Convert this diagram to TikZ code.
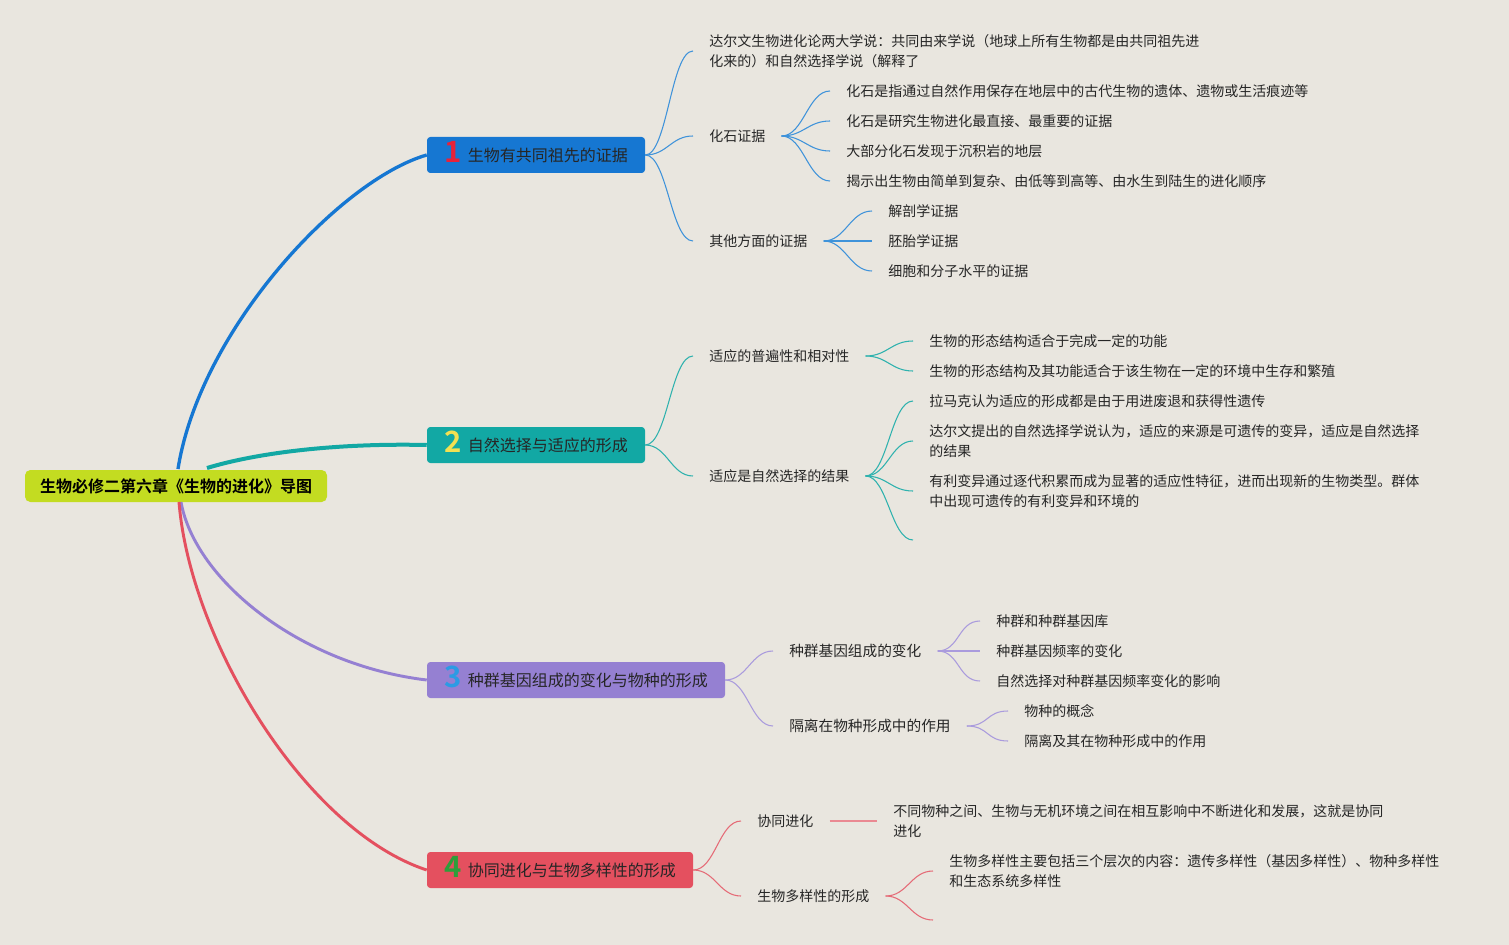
\documentclass[tikz,border=0pt]{standalone}
\usepackage{fontspec}
\setmainfont{Noto Sans CJK SC}[BoldFont={Noto Sans CJK SC Bold}]
\definecolor{bgcol}{HTML}{E9E6DF}
\definecolor{inkcol}{HTML}{262626}
\definecolor{rootcol}{HTML}{C3DC21}
\definecolor{onecol}{HTML}{1677D2}
\definecolor{twocol}{HTML}{12A8A4}
\definecolor{threecol}{HTML}{9580D2}
\definecolor{fourcol}{HTML}{E4505F}
\definecolor{onethin}{HTML}{3F93DA}
\definecolor{twothin}{HTML}{2FB2AE}
\definecolor{threethin}{HTML}{AA9BDD}
\definecolor{fourthin}{HTML}{E56B77}
\definecolor{numred}{HTML}{E8223A}
\definecolor{numyellow}{HTML}{F2E052}
\definecolor{numblue}{HTML}{2C9BE4}
\definecolor{numgreen}{HTML}{2E9E3A}
\newcommand\topicnum[2]{\smash{\raisebox{-1pt}{\fontsize{22}{22}\selectfont\bfseries\color{#1}#2}}\hspace{5pt}}

\begin{document}
\begin{tikzpicture}[x=0.75pt,y=-0.75pt,
    txt/.style={anchor=west, inner xsep=12pt, inner ysep=2pt, align=left,
        font=\fontsize{10.5}{15}\selectfont, text=inkcol},
    topic/.style={rounded corners=2.5pt, minimum height=27pt, inner sep=0pt,
        font=\fontsize{12}{14}\selectfont, text=inkcol},
    thin link/.style={line width=0.8pt}]
    % Background
    \fill[bgcol] (0,0) rectangle (1509,945);
    \useasboundingbox (0,0) rectangle (1509,945);
    % Root
    \node[fill=rootcol, rounded corners=4pt, minimum width=226.5pt, minimum height=24pt,
        inner sep=0pt, font=\bfseries\fontsize{12}{14}\selectfont, text=black]
        (root) at (176,486) {生物必修二第六章《生物的进化》导图};
    \coordinate (r1) at (178,469);
    \coordinate (r2) at (207,468);
    \coordinate (r3) at (181,502);
    \coordinate (r4) at (179,502);
    % Main topics
    \node[topic, fill=onecol, minimum width=163.5pt] (b1) at (536,155)
        {\topicnum{numred}{1}生物有共同祖先的证据};
    \node[topic, fill=twocol, minimum width=163.5pt] (b2) at (536,445)
        {\topicnum{numyellow}{2}自然选择与适应的形成};
    \node[topic, fill=threecol, minimum width=223.5pt] (b3) at (576,680)
        {\topicnum{numblue}{3}种群基因组成的变化与物种的形成};
    \node[topic, fill=fourcol, minimum width=199.5pt] (b4) at (560,870)
        {\topicnum{numgreen}{4}协同进化与生物多样性的形成};
    \draw[line width=2.5pt, onecol] (r1) .. controls (200,330) and (340,180) .. (b1.west);
    \draw[line width=3pt, twocol] (r2) .. controls (260,452) and (340,443) .. (b2.west);
    \draw[line width=2.2pt, threecol] (r3) .. controls (195,580) and (300,665) .. (b3.west);
    \draw[line width=2.2pt, fourcol] (r4) .. controls (190,640) and (305,830) .. (b4.west);

    % Branch 1
    \node[txt] (t11) at (693,51) {达尔文生物进化论两大学说：共同由来学说（地球上所有生物都是由共同祖先进\\化来的）和自然选择学说（解释了};
    \node[txt] (t12) at (693,136) {化石证据};
    \node[txt] (t13) at (693,241) {其他方面的证据};
    \node[txt] (t121) at (830,91) {化石是指通过自然作用保存在地层中的古代生物的遗体、遗物或生活痕迹等};
    \node[txt] (t122) at (830,121) {化石是研究生物进化最直接、最重要的证据};
    \node[txt] (t123) at (830,151) {大部分化石发现于沉积岩的地层};
    \node[txt] (t124) at (830,181) {揭示出生物由简单到复杂、由低等到高等、由水生到陆生的进化顺序};
    \node[txt] (t131) at (872,211) {解剖学证据};
    \node[txt] (t132) at (872,241) {胚胎学证据};
    \node[txt] (t133) at (872,271) {细胞和分子水平的证据};
    \foreach \to in {t11,t12,t13}
        \draw[thin link, onethin] (b1.east) .. controls +(22,0) and +(-22,0) .. (\to.west);
    \foreach \to in {t121,t122,t123,t124}
        \draw[thin link, onethin] (t12.east) .. controls +(22,0) and +(-22,0) .. (\to.west);
    \foreach \to in {t131,t132,t133}
        \draw[thin link, onethin] (t13.east) .. controls +(22,0) and +(-22,0) .. (\to.west);

    % Branch 2
    \node[txt] (t21) at (693,356) {适应的普遍性和相对性};
    \node[txt] (t22) at (693,476) {适应是自然选择的结果};
    \node[txt] (t211) at (913,341) {生物的形态结构适合于完成一定的功能};
    \node[txt] (t212) at (913,371) {生物的形态结构及其功能适合于该生物在一定的环境中生存和繁殖};
    \node[txt] (t221) at (913,401) {拉马克认为适应的形成都是由于用进废退和获得性遗传};
    \node[txt] (t222) at (913,441) {达尔文提出的自然选择学说认为，适应的来源是可遗传的变异，适应是自然选择\\的结果};
    \node[txt] (t223) at (913,491) {有利变异通过逐代积累而成为显著的适应性特征，进而出现新的生物类型。群体\\中出现可遗传的有利变异和环境的};
    \coordinate (e224) at (913,540);
    \foreach \to in {t21,t22}
        \draw[thin link, twothin] (b2.east) .. controls +(22,0) and +(-22,0) .. (\to.west);
    \foreach \to in {t211,t212}
        \draw[thin link, twothin] (t21.east) .. controls +(22,0) and +(-22,0) .. (\to.west);
    \foreach \to in {t221,t222,t223}
        \draw[thin link, twothin] (t22.east) .. controls +(22,0) and +(-22,0) .. (\to.west);
    \draw[thin link, twothin] (t22.east) .. controls +(22,0) and +(-22,0) .. (e224);

    % Branch 3
    \node[txt, font=\fontsize{11}{15}\selectfont] (t31) at (773,651) {种群基因组成的变化};
    \node[txt, font=\fontsize{11}{15}\selectfont] (t32) at (773,726) {隔离在物种形成中的作用};
    \node[txt] (t311) at (980,621) {种群和种群基因库};
    \node[txt] (t312) at (980,651) {种群基因频率的变化};
    \node[txt] (t313) at (980,681) {自然选择对种群基因频率变化的影响};
    \node[txt] (t321) at (1008,711) {物种的概念};
    \node[txt] (t322) at (1008,741) {隔离及其在物种形成中的作用};
    \foreach \to in {t31,t32}
        \draw[thin link, threethin] (b3.east) .. controls +(22,0) and +(-22,0) .. (\to.west);
    \foreach \to in {t311,t312,t313}
        \draw[thin link, threethin] (t31.east) .. controls +(22,0) and +(-22,0) .. (\to.west);
    \foreach \to in {t321,t322}
        \draw[thin link, threethin] (t32.east) .. controls +(22,0) and +(-22,0) .. (\to.west);

    % Branch 4
    \node[txt] (t41) at (741,821) {协同进化};
    \node[txt] (t42) at (741,896) {生物多样性的形成};
    \node[txt] (t411) at (877,821) {不同物种之间、生物与无机环境之间在相互影响中不断进化和发展，这就是协同\\进化};
    \node[txt] (t421) at (933,871) {生物多样性主要包括三个层次的内容：遗传多样性（基因多样性）、物种多样性\\和生态系统多样性};
    \coordinate (e422) at (933,920);
    \foreach \to in {t41,t42}
        \draw[thin link, fourthin] (b4.east) .. controls +(22,0) and +(-22,0) .. (\to.west);
    \draw[line width=1.4pt, fourthin!80!white] (t41.east) -- (t411.west);
    \draw[thin link, fourthin] (t42.east) .. controls +(22,0) and +(-22,0) .. (t421.west);
    \draw[thin link, fourthin] (t42.east) .. controls +(22,0) and +(-22,0) .. (e422);
\end{tikzpicture}
\end{document}
